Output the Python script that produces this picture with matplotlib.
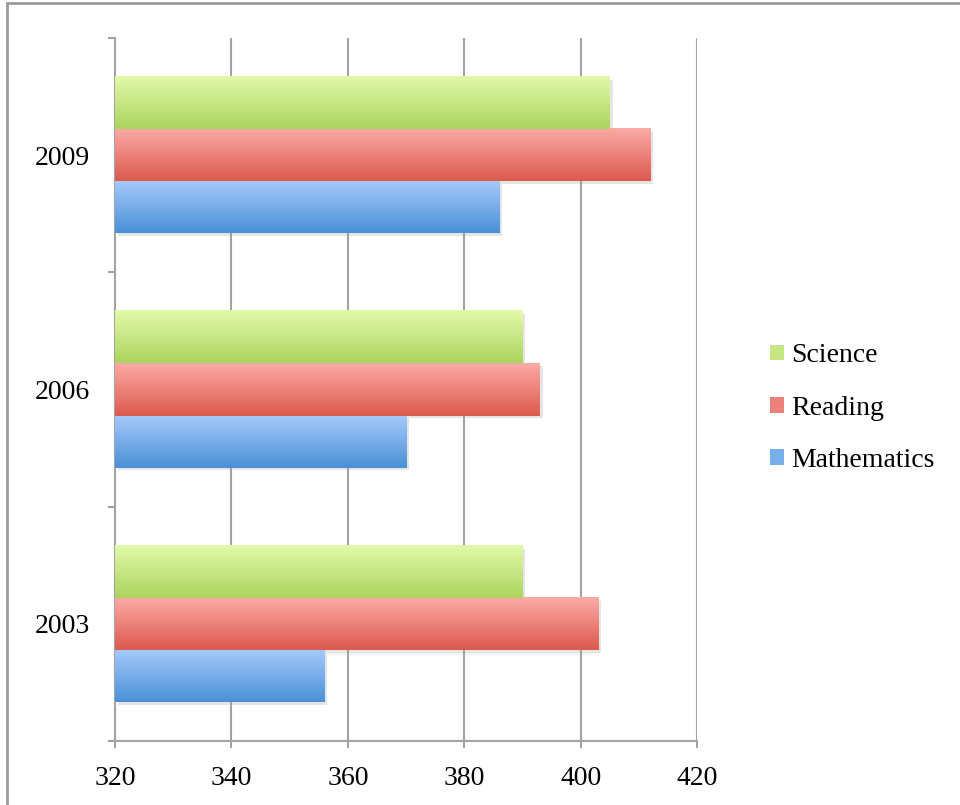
import numpy as np
import matplotlib
matplotlib.use('Agg')
import matplotlib.pyplot as plt
from matplotlib.patches import Patch, Rectangle
from matplotlib.colors import LinearSegmentedColormap
import matplotlib.patheffects as pe

# Data
years = ['2003', '2006', '2009']
mathematics = [356, 370, 386]
reading = [403, 393, 412]
science = [390, 390, 405]

series = ['Mathematics', 'Reading', 'Science']
values = [mathematics, reading, science]
# (top colour, bottom colour) for the gradient fill
grads = [('#a6cafc', '#4a90d6'), ('#fcaaa6', '#dc5a4e'), ('#e2faaa', '#acd35e')]
legend_cols = ['#78aeea', '#ec817a', '#c6e684']

plt.rcParams['font.family'] = ['Liberation Serif', 'DejaVu Serif']

fig = plt.figure(figsize=(9.6, 8.05), dpi=100)
ax = fig.add_axes([0.1198, 0.0795, 0.6063, 0.8733])

xmin = 320
bh = 2 / 9
centers = np.arange(len(years)) + 0.5
offsets = [-bh, 0, bh]

grid_c = '#a3a3a3'
for xv in range(340, 421, 20):
    ax.axvline(xv, color=grid_c, lw=1.5, zorder=0)

for i, (name, vals) in enumerate(zip(series, values)):
    top, bot = grads[i]
    cmap = LinearSegmentedColormap.from_list(name, [bot, top])
    for c, v in zip(centers, vals):
        y0 = c + offsets[i] - bh / 2
        ax.barh(c + offsets[i], v - xmin, left=xmin, height=bh, color=bot, zorder=2,
                path_effects=[pe.SimplePatchShadow(offset=(2, -2), shadow_rgbFace='#999999', alpha=0.25),
                              pe.Normal()])
        grad = np.linspace(0, 1, 64).reshape(-1, 1)
        ax.imshow(grad, cmap=cmap, origin='lower', aspect='auto',
                  extent=[xmin, v, y0, y0 + bh], zorder=3)

ax.set_xlim(320, 420)
ax.set_ylim(0, 3)
ax.set_xticks(range(320, 421, 20))
ax.set_yticks([0, 1, 2, 3])
ax.set_yticklabels([])
ax.set_yticks(centers, minor=True)
ax.set_yticklabels(years, minor=True)
ax.tick_params(axis='y', which='minor', length=0, pad=18, labelsize=20)
ax.tick_params(axis='y', which='major', length=5, width=1.5, color=grid_c)
ax.tick_params(axis='x', length=5, width=1.5, color=grid_c, pad=13, labelsize=20)

for s in ['top', 'right']:
    ax.spines[s].set_visible(False)
for s in ['left', 'bottom']:
    ax.spines[s].set_color(grid_c)
    ax.spines[s].set_linewidth(1.5)

handles = [Patch(facecolor=legend_cols[i], edgecolor='none', label=series[i]) for i in [2, 1, 0]]
fig.legend(handles=handles, loc='center left', bbox_to_anchor=(0.776, 0.493),
           frameon=False, fontsize=20, handlelength=0.5, handleheight=0.5,
           handletextpad=0.25, labelspacing=0.98)

# outer chart frame (cropped at right and bottom)
fig.patches.append(Rectangle((7 / 960, -0.1), 2, 1.1 - 3 / 805, transform=fig.transFigure,
                             fill=False, edgecolor='#9a9a9a', lw=2))

fig.savefig('out.png', dpi=100)
